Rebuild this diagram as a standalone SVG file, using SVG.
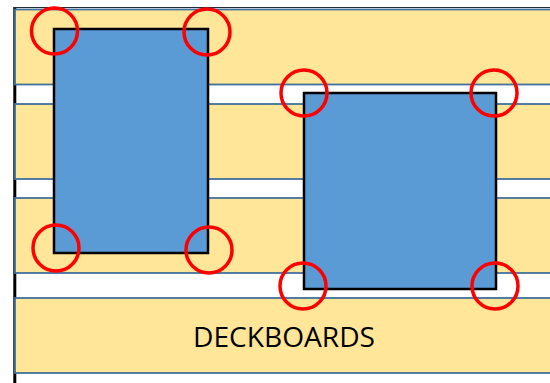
<svg xmlns="http://www.w3.org/2000/svg" width="550" height="383" viewBox="0 0 550 383">
  <style>
    .board { fill: #FFE699; stroke: #41719C; stroke-width: 1.8; }
    .post { fill: #5B9BD5; stroke: #000000; stroke-width: 2.5; }
    .screw { fill: none; stroke: #FF0000; stroke-width: 3.5; }
    .label { font-family: "Open Sans", "Liberation Sans", Arial, sans-serif; font-size: 28px; fill: #000000; }
  </style>
  <rect x="0" y="0" width="550" height="383" fill="#FFFFFF"/>
  <line x1="14.8" y1="7" x2="14.8" y2="383" stroke="#000000" stroke-width="3"/>
  <line x1="14" y1="7.5" x2="550" y2="7.5" stroke="#1F2D3D" stroke-width="1.2"/>
  <g id="deckboards">
    <rect class="board" x="15" y="9.5" width="540" height="75"/>
    <rect class="board" x="15" y="104" width="540" height="75"/>
    <rect class="board" x="15" y="198" width="540" height="75"/>
    <rect class="board" x="15" y="298" width="540" height="75"/>
    <text class="label" x="284" y="346.5" text-anchor="middle" textLength="182" lengthAdjust="spacingAndGlyphs">DECKBOARDS</text>
  </g>
  <g id="post1">
    <rect class="post" x="54" y="29" width="154" height="224"/>
  </g>
  <g id="post2">
    <rect class="post" x="304" y="93" width="192" height="196"/>
  </g>
  <g id="screws">
    <circle class="screw" cx="54.5" cy="31" r="23"/>
    <circle class="screw" cx="207" cy="32" r="23"/>
    <circle class="screw" cx="56" cy="248" r="23"/>
    <circle class="screw" cx="209" cy="250" r="23"/>
    <circle class="screw" cx="304" cy="93" r="23"/>
    <circle class="screw" cx="494" cy="93" r="23"/>
    <circle class="screw" cx="303" cy="286" r="23"/>
    <circle class="screw" cx="495" cy="286" r="23"/>
  </g>
</svg>
